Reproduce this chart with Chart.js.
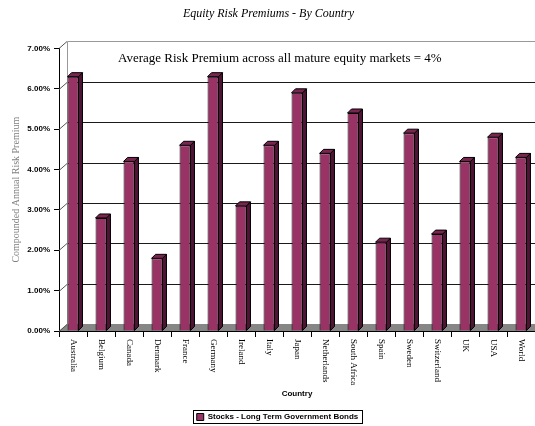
<!DOCTYPE html>
<html>
<head>
<meta charset="utf-8">
<script src="https://cdn.jsdelivr.net/npm/chart.js@4/dist/chart.umd.min.js"></script>
<style>
  html, body { margin: 0; padding: 0; background: #fff; }
</style>
</head>
<body>
<canvas id="chart" width="535" height="426"></canvas>
<script>
/* ─── DATOS ─── */
// Prima de riesgo anual compuesta (acciones - bonos LP), en %
const countries = ['Australia', 'Belgium', 'Canada', 'Denmark', 'France', 'Germany', 'Ireland', 'Italy',
  'Japan', 'Netherlands', 'South Africa', 'Spain', 'Sweden', 'Switzerland', 'UK', 'USA', 'World'];
const premiums = [6.3, 2.8, 4.2, 1.8, 4.6, 6.3, 3.1, 4.6, 5.9, 4.4, 5.4, 2.2, 4.9, 2.4, 4.2, 4.8, 4.3];
const yTicks = [0, 1, 2, 3, 4, 5, 6, 7];
const seriesName = 'Stocks - Long Term Government Bonds';
const avgNote = 'Average Risk Premium across all mature equity markets = 4%';

/* ─── ESTILO 3D ─── */
const BAR_FRONT = '#993366';
const BAR_SIDE = '#4f1434';
const BAR_TOP = '#7a2450';
const WALL_DX = 8, WALL_DY = 7;   // profundidad de la pared del fondo
const BAR_DX = 4, BAR_DY = 4;     // profundidad de cada barra
const LEGEND_SHIFT = 9;           // la leyenda va algo a la derecha del centro

// Pared del fondo, suelo gris y líneas de rejilla desplazadas
const wall3d = {
  id: 'wall3d',
  afterLayout(chart) {
    const lg = chart.legend;
    lg.left += LEGEND_SHIFT;
    lg.right += LEGEND_SHIFT;
    lg.legendHitBoxes.forEach(b => { b.left += LEGEND_SHIFT; });
  },

  beforeDatasetsDraw(chart) {
    const { ctx, chartArea: a, scales: { y } } = chart;
    ctx.save();
    ctx.lineWidth = 1;

    // suelo
    ctx.fillStyle = '#868686';
    ctx.beginPath();
    ctx.moveTo(a.left, a.bottom);
    ctx.lineTo(a.right, a.bottom);
    ctx.lineTo(a.right + WALL_DX, a.bottom - WALL_DY);
    ctx.lineTo(a.left + WALL_DX, a.bottom - WALL_DY);
    ctx.closePath();
    ctx.fill();

    // rejilla en pared del fondo + diagonales en la pared lateral
    yTicks.forEach(v => {
      const py = Math.round(y.getPixelForValue(v)) + 0.5;
      ctx.strokeStyle = '#555';
      ctx.beginPath();
      ctx.moveTo(a.left, py);
      ctx.lineTo(a.left + WALL_DX, py - WALL_DY);
      ctx.stroke();
      if (v === 0 || v === yTicks[yTicks.length - 1]) return;
      ctx.strokeStyle = '#1a1a1a';
      ctx.beginPath();
      ctx.moveTo(a.left + WALL_DX, py - WALL_DY);
      ctx.lineTo(a.right + WALL_DX, py - WALL_DY);
      ctx.stroke();
    });

    // bordes de la pared
    const top = Math.round(y.getPixelForValue(yTicks[yTicks.length - 1])) + 0.5 - WALL_DY;
    const bot = Math.round(y.getPixelForValue(0)) + 0.5 - WALL_DY;
    ctx.strokeStyle = '#999';
    ctx.beginPath();
    ctx.moveTo(a.left + WALL_DX + 0.5, bot);
    ctx.lineTo(a.left + WALL_DX + 0.5, top);
    ctx.lineTo(a.right + WALL_DX, top);
    ctx.stroke();

    // nota de la media
    ctx.fillStyle = '#000';
    ctx.font = '13px "Liberation Serif"';
    ctx.textAlign = 'left';
    ctx.textBaseline = 'middle';
    ctx.fillText(avgNote, a.left + 59, top + 17);
    ctx.restore();
  },

  // caras lateral y superior de cada barra
  afterDatasetsDraw(chart) {
    const { ctx } = chart;
    const meta = chart.getDatasetMeta(0);
    ctx.save();
    ctx.strokeStyle = '#000';
    ctx.lineWidth = 1;
    meta.data.forEach(bar => {
      const { x, y, width, base } = bar.getProps(['x', 'y', 'width', 'base'], true);
      const l = x - width / 2, r = x + width / 2;
      ctx.fillStyle = BAR_SIDE;
      ctx.beginPath();
      ctx.moveTo(r, base);
      ctx.lineTo(r, y);
      ctx.lineTo(r + BAR_DX, y - BAR_DY);
      ctx.lineTo(r + BAR_DX, base - BAR_DY);
      ctx.closePath();
      ctx.fill();
      ctx.stroke();

      ctx.fillStyle = BAR_TOP;
      ctx.beginPath();
      ctx.moveTo(l, y);
      ctx.lineTo(r, y);
      ctx.lineTo(r + BAR_DX, y - BAR_DY);
      ctx.lineTo(l + BAR_DX, y - BAR_DY);
      ctx.closePath();
      ctx.fill();
      ctx.stroke();
    });
    ctx.restore();
  },

  // etiquetas de país giradas (lectura de arriba a abajo) y marco de la leyenda
  afterDraw(chart) {
    const { ctx, chartArea: a, scales: { x } } = chart;
    ctx.save();
    ctx.fillStyle = '#000';
    ctx.font = '9px "Liberation Serif"';
    ctx.textAlign = 'left';
    ctx.textBaseline = 'middle';
    countries.forEach((c, i) => {
      ctx.save();
      ctx.translate(x.getPixelForValue(i), a.bottom + 8);
      ctx.rotate(Math.PI / 2);
      ctx.fillText(c, 0, 0);
      ctx.restore();
    });

    const box = chart.legend.legendHitBoxes[0];
    if (box) {
      ctx.strokeStyle = '#000';
      ctx.lineWidth = 1;
      ctx.strokeRect(Math.round(box.left) - 3.5, Math.round(box.top) - 2.5,
        Math.round(box.width) + 7, Math.round(box.height) + 5);
    }
    ctx.restore();
  }
};

/* ─── GRÁFICO ─── */
new Chart(document.getElementById('chart'), {
  type: 'bar',
  data: {
    labels: countries,
    datasets: [{
      label: seriesName,
      data: premiums,
      backgroundColor: BAR_FRONT,
      borderColor: '#000',
      borderWidth: 1,
      barPercentage: 0.39,
      categoryPercentage: 1
    }]
  },
  options: {
    responsive: false,
    animation: false,
    layout: { padding: { top: 0, left: 0, right: -2, bottom: -5 } },
    plugins: {
      title: {
        display: true,
        text: 'Equity Risk Premiums - By Country',
        color: '#000',
        font: { family: 'Liberation Serif', size: 12, style: 'italic', weight: 'normal' },
        padding: { top: 7, bottom: 27 }
      },
      legend: {
        position: 'bottom',
        labels: {
          boxWidth: 7,
          boxHeight: 7,
          padding: 4,
          color: '#000',
          font: { family: 'Liberation Sans', size: 8, weight: 'bold' }
        }
      },
      tooltip: { enabled: false }
    },
    scales: {
      x: {
        type: 'category',
        offset: true,
        grid: { offset: true, drawOnChartArea: false, tickLength: 6, color: '#000' },
        border: { display: true, color: '#000' },
        ticks: { display: false },
        title: {
          display: true,
          text: 'Country',
          color: '#000',
          font: { family: 'Liberation Sans', size: 8, weight: 'bold' },
          padding: { top: 0, bottom: 10 }
        },
        afterFit: s => { s.height = 78; }
      },
      y: {
        min: 0,
        max: 7,
        afterBuildTicks: s => { s.ticks = yTicks.map(v => ({ value: v })); },
        ticks: {
          callback: v => v.toFixed(2) + '%',
          color: '#000',
          padding: 4,
          font: { family: 'Liberation Sans', size: 8, weight: 'bold' }
        },
        grid: { drawOnChartArea: false, tickLength: 5, color: '#000' },
        border: { display: true, color: '#000' },
        title: {
          display: true,
          text: 'Compounded Annual Risk Premium',
          color: '#808080',
          font: { family: 'Liberation Serif', size: 10 },
          padding: { top: 10, bottom: 0 }
        },
        afterFit: s => { s.width = 59; }
      }
    }
  },
  plugins: [wall3d]
});
</script>
</body>
</html>
